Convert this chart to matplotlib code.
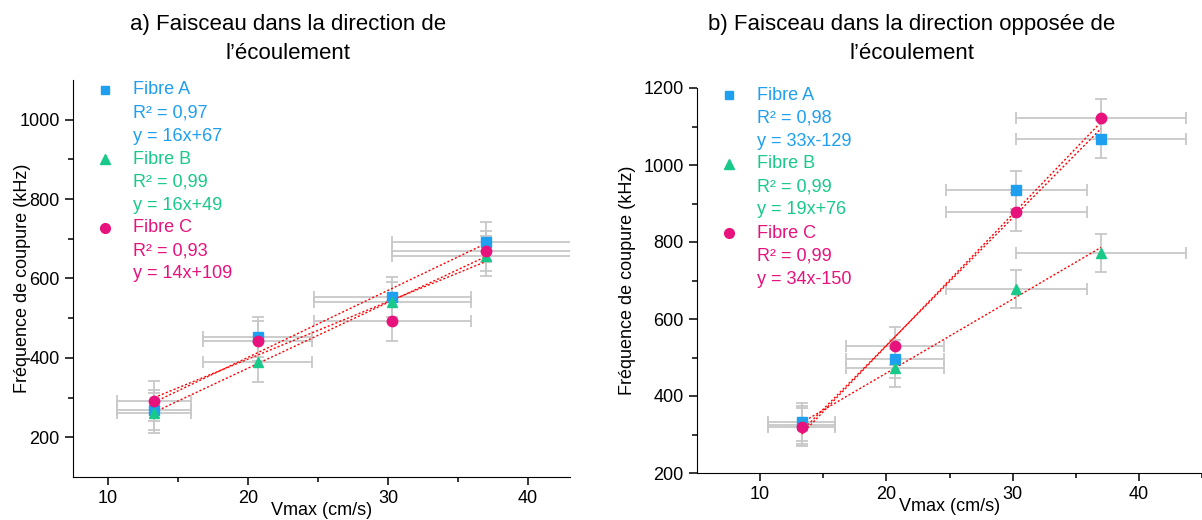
import matplotlib.pyplot as plt
import numpy as np

plt.rcParams['font.family'] = ['Liberation Sans', 'DejaVu Sans']

# shared x values (Vmax, cm/s) and horizontal errors
vmax = [13.3, 20.7, 30.3, 37.0]
vmax_err = [2.65, 3.9, 5.6, 6.7]

# a) beam in flow direction
a_fibre_A = [268, 452, 553, 692]
a_fibre_B = [262, 389, 541, 657]
a_fibre_C = [291, 442, 493, 670]

# b) beam opposite to flow
b_fibre_A = [332, 496, 935, 1068]
b_fibre_B = [325, 473, 678, 771]
b_fibre_C = [319, 530, 878, 1122]

freq_err = [50, 50, 50, 50]

names = ["Fibre A", "Fibre B", "Fibre C"]
a_r2 = ["R² = 0,97", "R² = 0,99", "R² = 0,93"]
a_eq = ["y = 16x+67", "y = 16x+49", "y = 14x+109"]
b_r2 = ["R² = 0,98", "R² = 0,99", "R² = 0,99"]
b_eq = ["y = 33x-129", "y = 19x+76", "y = 34x-150"]

colors = ["#1E9FEF", "#19C98A", "#E8127C"]
markers = ["s", "^", "o"]

fig = plt.figure(figsize=(12.02, 5.2), dpi=100)
ax1 = fig.add_axes([73 / 1202, 1 - 477 / 520, 497 / 1202, 397 / 520])
ax2 = fig.add_axes([697 / 1202, 1 - 473 / 520, 505 / 1202, 385 / 520])


def draw(ax, series, r2, eq, leg_x, leg_y0, ypad):
    for ys in series:
        ax.errorbar(vmax, ys, xerr=vmax_err, yerr=freq_err, fmt="none",
                    ecolor="#c8c8c8", elinewidth=1.3, capsize=4, capthick=1.3,
                    zorder=1)
    for ys in series:
        k, b = np.polyfit(vmax, ys, 1)
        xs = np.array([vmax[0], vmax[-1]])
        ax.plot(xs, k * xs + b, color="red", lw=1.0, ls=(0, (1.5, 1.5)),
                zorder=2)
    for ys, c, m in zip(series, colors, markers):
        ax.plot(vmax, ys, ls="none", marker=m, color=c,
                ms=7.5 if m != "s" else 7, mec=c, zorder=3)

    # legend written as text
    dy = 23 / 520
    for i, (n, r, e, c, m) in enumerate(zip(names, r2, eq, colors, markers)):
        y = leg_y0 - 3 * i * dy
        fig.lines.append(plt.Line2D([leg_x], [y], marker=m, color=c,
                                    ms=7 if m != "s" else 6, ls="none",
                                    transform=fig.transFigure))
        for j, t in enumerate([n, r, e]):
            fig.text(leg_x + 28 / 1202, y - j * dy, t, color=c, fontsize=13,
                     va="center", ha="left")

    for s in ["top", "right"]:
        ax.spines[s].set_visible(False)
    ax.tick_params(direction="out", length=6, width=1.1, labelsize=13,
                   colors="black")
    ax.tick_params(which="minor", direction="out", length=3.5, width=1.1)
    ax.set_xticks([10, 20, 30, 40])
    ax.set_xticks([15, 25, 35, 45], minor=True)
    ax.set_xlabel("Vmax (cm/s)", fontsize=13, labelpad=-4)
    ax.set_ylabel("Fréquence de coupure (kHz)", fontsize=13, labelpad=ypad)


draw(ax1, [a_fibre_A, a_fibre_B, a_fibre_C], a_r2, a_eq,
     105 / 1202, 1 - 90 / 520, -8)
ax1.set_xlim(7.5, 43)
ax1.set_ylim(100, 1100)
ax1.set_yticks([200, 400, 600, 800, 1000])
ax1.set_yticks([300, 500, 700, 900], minor=True)

draw(ax2, [b_fibre_A, b_fibre_B, b_fibre_C], b_r2, b_eq,
     729 / 1202, 1 - 95 / 520, 5)
ax2.set_xlim(5, 45)
ax2.set_ylim(200, 1200)
ax2.set_yticks([200, 400, 600, 800, 1000, 1200])
ax2.set_yticks([300, 500, 700, 900, 1100], minor=True)

fig.text(288 / 1202, 1 - 39 / 520, "a) Faisceau dans la direction de\nl’écoulement",
         ha="center", va="center", fontsize=16, linespacing=1.5)
fig.text(912 / 1202, 1 - 39 / 520, "b) Faisceau dans la direction opposée de\nl’écoulement",
         ha="center", va="center", fontsize=16, linespacing=1.5)

fig.savefig("out.png", dpi=100)
